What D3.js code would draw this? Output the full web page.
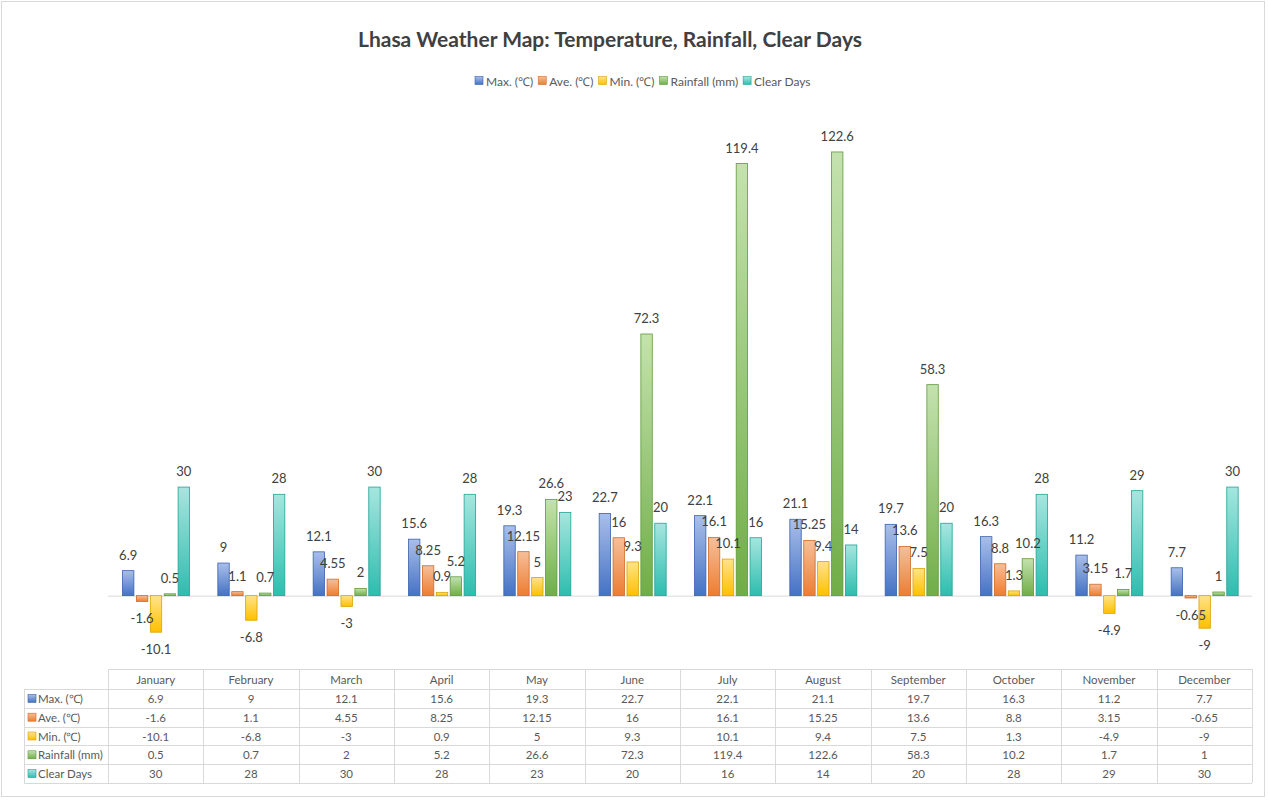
<!DOCTYPE html>
<html lang="en">
<head>
<meta charset="UTF-8">
<title>Lhasa Weather Map</title>
<script src="https://cdnjs.cloudflare.com/ajax/libs/d3/7.8.5/d3.min.js"></script>
<style>
  body { margin: 0; background: #fff; }
  svg text { font-family: Lato, "Open Sans", sans-serif; }
</style>
</head>
<body>
<div id="chart"></div>
<script>
// data
const months = ["January", "February", "March", "April", "May", "June",
                "July", "August", "September", "October", "November", "December"];
const seriesNames = ["Max. (\u2103)", "Ave. (\u2103)", "Min. (\u2103)", "Rainfall (mm)", "Clear Days"];
const maxTemp  = [6.9, 9, 12.1, 15.6, 19.3, 22.7, 22.1, 21.1, 19.7, 16.3, 11.2, 7.7];
const aveTemp  = [-1.6, 1.1, 4.55, 8.25, 12.15, 16, 16.1, 15.25, 13.6, 8.8, 3.15, -0.65];
const minTemp  = [-10.1, -6.8, -3, 0.9, 5, 9.3, 10.1, 9.4, 7.5, 1.3, -4.9, -9];
const rainfall = [0.5, 0.7, 2, 5.2, 26.6, 72.3, 119.4, 122.6, 58.3, 10.2, 1.7, 1];
const clearDays = [30, 28, 30, 28, 23, 20, 16, 14, 20, 28, 29, 30];

const seriesValues = [maxTemp, aveTemp, minTemp, rainfall, clearDays];
const colors = ["#4472c4", "#ed7d31", "#ffc000", "#70ad47", "#2dbdae"];
const lightColors = ["#aabfea", "#f6bf9a", "#ffe38a", "#c4e2ae", "#a6e6df"];
const borderColors = ["#3a62ad", "#d06a25", "#d9a300", "#5e9a3a", "#22a295"];

const W = 1268, H = 801;
const svg = d3.select("#chart").append("svg")
    .attr("width", W).attr("height", H);

// outer frame
svg.append("rect")
    .attr("x", 1.5).attr("y", 1.5).attr("width", 1263).attr("height", 795)
    .attr("fill", "#fff").attr("stroke", "#d9d9d9");

// gradients
const defs = svg.append("defs");
seriesNames.forEach((s, i) => {
  const g = defs.append("linearGradient").attr("id", "grad" + i)
      .attr("x1", 0).attr("y1", 0).attr("x2", 0).attr("y2", 1);
  g.append("stop").attr("offset", "0%").attr("stop-color", lightColors[i]);
  g.append("stop").attr("offset", "100%").attr("stop-color", colors[i]);
});

// title
svg.append("text")
    .attr("x", 610).attr("y", 47)
    .attr("text-anchor", "middle")
    .attr("font-size", 21).attr("font-weight", "bold")
    .attr("fill", "#404040")
    .text("Lhasa Weather Map: Temperature, Rainfall, Clear Days");

// legend
const legend = svg.append("g").attr("transform", "translate(475,81)");
let lx = 0;
seriesNames.forEach((s, i) => {
  const item = legend.append("g").attr("transform", `translate(${lx},0)`);
  item.append("rect").attr("x", 0).attr("y", -4.5).attr("width", 8).attr("height", 8)
      .attr("fill", "url(#grad" + i + ")").attr("stroke", borderColors[i]).attr("stroke-width", 0.6);
  const t = item.append("text").attr("x", 11).attr("y", 4.5)
      .attr("font-size", 12).attr("fill", "#595959").text(s);
  lx += 11 + t.node().getComputedTextLength() + 5;
});

// scales
const x = d3.scaleBand().domain(months).range([108, 1252]).padding(0);
const xs = d3.scaleBand().domain(d3.range(seriesNames.length))
    .range([14.5, 81.5]).paddingInner(0.18);
const y = d3.scaleLinear().domain([-20, 140]).range([668, 89]);

// zero line
svg.append("line")
    .attr("x1", 108).attr("x2", 1252)
    .attr("y1", y(0) + 0.5).attr("y2", y(0) + 0.5)
    .attr("stroke", "#d9d9d9");

// bars
const bars = svg.append("g");
const labels = svg.append("g");
seriesValues.forEach((vals, si) => {
  bars.append("g").selectAll("rect").data(vals).enter().append("rect")
      .attr("x", (d, i) => x(months[i]) + xs(si))
      .attr("y", d => y(Math.max(0, d)))
      .attr("width", xs.bandwidth())
      .attr("height", d => Math.abs(y(d) - y(0)))
      .attr("fill", "url(#grad" + si + ")")
      .attr("stroke", borderColors[si])
      .attr("stroke-width", 0.8);
  labels.append("g").selectAll("text").data(vals).enter().append("text")
      .attr("x", (d, i) => x(months[i]) + xs(si) + xs.bandwidth() / 2)
      .attr("y", d => d >= 0 ? y(d) - 11 : y(d) + 22)
      .attr("text-anchor", "middle")
      .attr("font-size", 13).attr("fill", "#404040")
      .text(d => d);
});

// data table
const tTop = 669, headH = 20, rowH = 18.8, labelLeft = 24;
const table = svg.append("g");
const lineColor = "#d9d9d9";
const tBottom = tTop + headH + rowH * seriesNames.length;

// header
months.forEach(m => {
  table.append("text")
      .attr("x", x(m) + x.bandwidth() / 2).attr("y", tTop + 14.5)
      .attr("text-anchor", "middle").attr("font-size", 11.5).attr("fill", "#595959")
      .text(m);
});
// horizontal lines
table.append("line").attr("x1", 108).attr("x2", 1252)
    .attr("y1", tTop + 0.5).attr("y2", tTop + 0.5).attr("stroke", lineColor);
d3.range(seriesNames.length + 1).forEach(r => {
  const yy = Math.round(tTop + headH + r * rowH) + 0.5;
  table.append("line").attr("x1", labelLeft).attr("x2", 1252)
      .attr("y1", yy).attr("y2", yy).attr("stroke", lineColor);
});
// vertical lines
months.forEach(m => {
  table.append("line").attr("x1", Math.round(x(m)) + 0.5).attr("x2", Math.round(x(m)) + 0.5)
      .attr("y1", tTop).attr("y2", tBottom).attr("stroke", lineColor);
});
table.append("line").attr("x1", 1252.5).attr("x2", 1252.5)
    .attr("y1", tTop).attr("y2", tBottom).attr("stroke", lineColor);
table.append("line").attr("x1", labelLeft + 0.5).attr("x2", labelLeft + 0.5)
    .attr("y1", tTop + headH).attr("y2", tBottom).attr("stroke", lineColor);

// rows
seriesNames.forEach((s, si) => {
  const cy = tTop + headH + si * rowH + rowH / 2;
  table.append("rect").attr("x", 28).attr("y", cy - 4).attr("width", 8).attr("height", 8)
      .attr("fill", "url(#grad" + si + ")").attr("stroke", borderColors[si]).attr("stroke-width", 0.6);
  table.append("text").attr("x", 38).attr("y", cy + 4.5)
      .attr("font-size", 11.5).attr("fill", "#595959").text(s);
  seriesValues[si].forEach((v, i) => {
    table.append("text")
        .attr("x", x(months[i]) + x.bandwidth() / 2).attr("y", cy + 4.5)
        .attr("text-anchor", "middle").attr("font-size", 11.5).attr("fill", "#595959")
        .text(v);
  });
});
</script>
</body>
</html>
